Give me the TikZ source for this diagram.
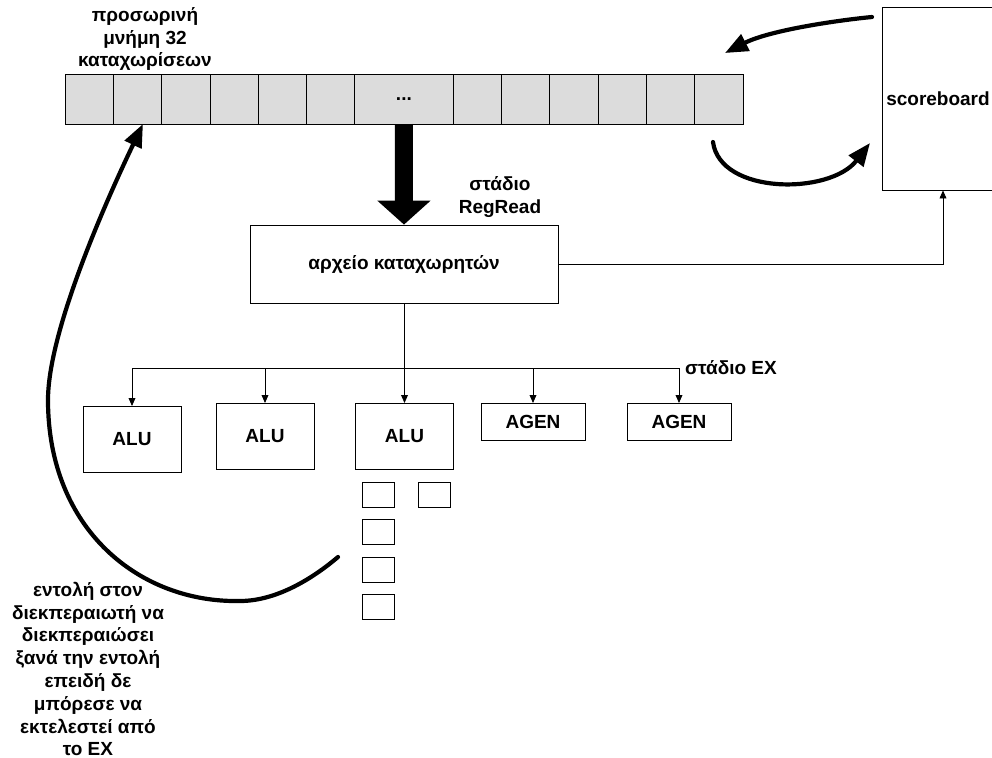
\documentclass[tikz,border=0pt]{standalone}
\usepackage{fontspec}
\setmainfont{Liberation Sans}
\usetikzlibrary{arrows.meta,calc}
\definecolor{cellgray}{RGB}{220,220,220}

\begin{document}
\begin{tikzpicture}[x=0.5pt,y=-0.5pt,>={Triangle[length=4pt,width=3.4pt]},
  every node/.style={font=\fontsize{9.5}{11.4}\selectfont\bfseries},
  regcell/.style={draw,fill=cellgray,inner sep=0pt,outer sep=0pt,minimum width=24.15pt,minimum height=25pt},
  fubox/.style={draw,inner sep=0pt,outer sep=0pt,minimum width=49pt,minimum height=33pt},
  slotbox/.style={draw,inner sep=0pt,outer sep=0pt,minimum width=16pt,minimum height=12.5pt},
  curvearrow/.style={line width=2.1pt,line cap=round,-{Triangle[length=11.5pt,width=9pt]}}]
  \fill[white] (0,0) rectangle (992,757);
  \useasboundingbox (0,0) rectangle (992,757);
  % buffer of 32 entries
  \foreach \i in {0,...,5}
    \node[regcell] (c\i) at ({89.15+48.3*\i},99) {};
  \node[regcell,minimum width=49.1pt] (cdots) at (403.9,99) {...};
  \foreach \i in {0,...,5}
    \node[regcell] (d\i) at ({477.17+48.33*\i},99) {};
  \node[align=center] (buftitle) at (145,39) {προσωρινή\\μνήμη 32\\καταχωρίσεων};
  \node[draw,inner sep=0pt,minimum width=56pt,minimum height=91.5pt] (scoreboard) at (938,98.5) {scoreboard};
  % RegRead stage
  \node[draw,inner sep=0pt,minimum width=154pt,minimum height=39pt] (regfile) at (404,264) {αρχείο καταχωρητών};
  \node[align=center] (rrlabel) at (500,197) {στάδιο\\RegRead};
  \draw[line width=9pt,-{Triangle[length=12pt,width=26pt]}] (cdots.south) -- (regfile.north);
  \draw[->] (regfile.east) -| ([xshift=2.5pt]scoreboard.south);
  % EX stage
  \node[fubox] (alu1) at (132,439) {ALU};
  \node[fubox] (alu2) at (265,436) {ALU};
  \node[fubox] (alu3) at (404.5,436) {ALU};
  \node[fubox,minimum width=52pt,minimum height=18.5pt] (agen1) at (533,421.5) {AGEN};
  \node[fubox,minimum width=52pt,minimum height=18.5pt] (agen2) at (679,421.5) {AGEN};
  \node (exlabel) at (731,368) {στάδιο EX};
  \coordinate (bus) at (404,368);
  \draw (regfile.south) -- (bus);
  \draw (alu1.north |- bus) -- (agen2.north |- bus);
  \foreach \u in {alu1,alu2,alu3,agen1,agen2}
    \draw[->] (\u.north |- bus) -- (\u.north);
  \node[slotbox] (s1) at (378,494.5) {};
  \node[slotbox] (s2) at (434.5,494.5) {};
  \node[slotbox] (s3) at (378,531.5) {};
  \node[slotbox] (s4) at (378,569.5) {};
  \node[slotbox] (s5) at (378,606.5) {};
  % replay path
  \coordinate (retStart) at (338,557);
  \draw[curvearrow] (retStart) .. controls (318,574) and (280,601) .. (240,601)
    .. controls (140,603) and (48,530) .. (48,400)
    .. controls (48,330) and (108,197) .. ([xshift=2.75pt]c1.south);
  \node[align=center] (retlabel) at (88,669) {εντολή στον\\διεκπεραιωτή να\\διεκπεραιώσει\\ξανά την εντολή\\επειδή δε\\μπόρεσε να\\εκτελεστεί από\\το EX};
  % scoreboard loop
  \coordinate (sbOut) at (872,17);
  \coordinate (bufIn) at (725,53);
  \draw[curvearrow] (sbOut) .. controls (840,20) and (770,30) .. (bufIn);
  \coordinate (bufOut) at (713,142);
  \coordinate (sbIn) at (870,143);
  \draw[curvearrow] (bufOut) .. controls (720,195) and (830,195) .. (sbIn);
\end{tikzpicture}
\end{document}
